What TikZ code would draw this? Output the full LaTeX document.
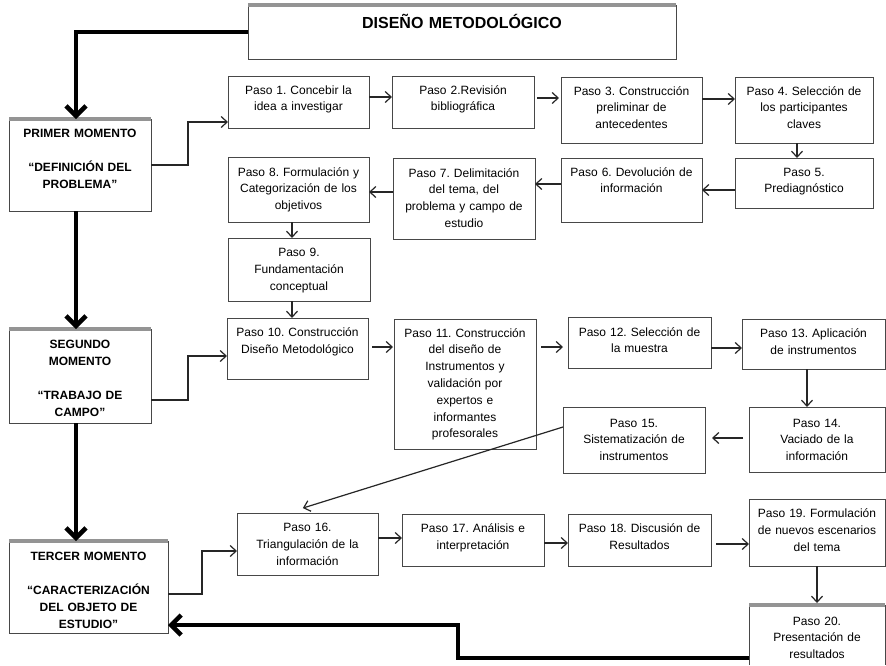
\documentclass[tikz,border=0pt]{standalone}
\usepackage{fontspec}
\setmainfont{Liberation Sans}
\usetikzlibrary{arrows.meta}
\frenchspacing
\tikzset{
  x=1pt, y=-1pt,
  boxframe/.style={draw=black!72, line width=0.9pt, inner sep=0pt, outer sep=0pt, fill=white},
  openframe/.style={draw=none, inner sep=0pt, outer sep=0pt, fill=white},
  boxtext/.style={inner sep=0pt, text width=150pt, align=center, anchor=base, font=\fontsize{12}{16.8}\selectfont},
  momtext/.style={font=\bfseries\fontsize{12}{17}\selectfont},
  titletext/.style={text width=400pt, font=\bfseries\fontsize{16}{19}\selectfont},
  band/.style={draw=black!42, line width=4pt},
  thinarr/.style={draw=black!85, line width=1.2pt, -{Straight Barb[length=6pt,width=11pt]}},
  thickarr/.style={draw=black, line width=4.5pt, -{Straight Barb[length=10pt,width=20pt]}},
}
% #1 frame style, #2 name, #3 x1, #4 y1, #5 x2, #6 y2, #7 text style, #8 baseline offset, #9 text
\newcommand\mkbox[9]{%
  \node[#1, minimum width={(#5-#3)*1pt}, minimum height={(#6-#4)*1pt}] (#2) at ({(#3+#5)/2},{(#4+#6)/2}) {};
  \node[boxtext, #7] (#2t) at ({(#3+#5)/2},{#4+#8}) {#9};
}
\begin{document}
\begin{tikzpicture}
\fill[white] (0,0) rectangle (886,665);
\useasboundingbox (0,0) rectangle (886,665);

% boxes
\mkbox{boxframe}{title}{248}{5}{676}{59}{titletext}{23}{DISEÑO METODOLÓGICO}
\mkbox{boxframe}{m1}{9}{119}{151}{211}{momtext}{18}{PRIMER MOMENTO\\[17pt]“DEFINICIÓN DEL\\PROBLEMA”}
\mkbox{boxframe}{m2}{9}{329}{151}{423}{momtext}{19.5}{SEGUNDO\\MOMENTO\\[17pt]“TRABAJO DE\\CAMPO”}
\mkbox{boxframe}{m3}{9}{541}{168}{633}{momtext}{19}{TERCER MOMENTO\\[17pt]“CARACTERIZACIÓN\\DEL OBJETO DE\\ESTUDIO”}

\mkbox{boxframe}{p1}{228}{76}{369}{128}{}{18}{Paso 1. Concebir la\\idea a investigar}
\mkbox{boxframe}{p2}{392}{76}{534}{128}{}{18}{Paso 2.Revisión\\bibliográfica}
\mkbox{boxframe}{p3}{561}{77}{702}{143}{}{18}{Paso 3. Construcción\\preliminar de\\antecedentes}
\mkbox{boxframe}{p4}{735}{77}{873}{143}{}{18}{Paso 4. Selección de\\los participantes\\claves}
\mkbox{boxframe}{p5}{735}{158}{873}{208}{}{18}{Paso 5.\\Prediagnóstico}
\mkbox{boxframe}{p6}{561}{158}{702}{222}{}{18}{Paso 6. Devolución de\\información}
\mkbox{boxframe}{p7}{393}{158}{535}{239}{}{19}{Paso 7. Delimitación\\del tema, del\\problema y campo de\\estudio}
\mkbox{boxframe}{p8}{228}{157}{369}{222}{}{19}{Paso 8. Formulación y\\Categorización de los\\objetivos}
\mkbox{boxframe}{p9}{228}{238}{370}{301}{}{18.5}{Paso 9.\\Fundamentación\\conceptual}
\mkbox{boxframe}{p10}{227}{318}{368}{379}{}{18.5}{Paso 10. Construcción\\Diseño Metodológico}
\mkbox{boxframe}{p11}{394}{319}{536}{449}{}{18}{Paso 11. Construcción\\del diseño de\\Instrumentos y\\validación por\\expertos e\\informantes\\profesorales}
\mkbox{boxframe}{p12}{568}{317}{711}{368}{}{19}{Paso 12. Selección de\\la muestra}
\mkbox{boxframe}{p13}{742}{319}{885}{369}{}{18.5}{Paso 13. Aplicación\\de instrumentos}
\mkbox{boxframe}{p14}{749}{407}{885}{472}{}{20}{Paso 14.\\Vaciado de la\\información}
\mkbox{boxframe}{p15}{563}{407}{705}{473}{}{20}{Paso 15.\\Sistematización de\\instrumentos}
\mkbox{boxframe}{p16}{237}{513}{378}{575}{}{18.5}{Paso 16.\\Triangulación de la\\información}
\mkbox{boxframe}{p17}{402}{514}{544}{566}{}{18.5}{Paso 17. Análisis e\\interpretación}
\mkbox{boxframe}{p18}{568}{514}{711}{566}{}{18.5}{Paso 18. Discusión de\\Resultados}
\mkbox{boxframe}{p19}{749}{499}{885}{566}{}{18.5}{Paso 19. Formulación\\de nuevos escenarios\\del tema}
\mkbox{openframe}{p20}{749}{605}{885}{665}{}{20}{Paso 20.\\Presentación de\\resultados}
\draw[draw=black!72, line width=0.9pt] (p20.south west) -- (p20.north west) -- (p20.north east) -- (p20.south east);

% grey top bands
\foreach \b in {title,m1,m2,m3,p20} {
  \draw[band] (\b.north west) -- (\b.north east);
}

% thick spine
\coordinate (spine) at (76,0);
\draw[thickarr] (title.west) -| (m1.north -| spine);
\draw[thickarr] (m1.south -| spine) -- (m2.north -| spine);
\draw[thickarr] (m2.south -| spine) -- (m3.north -| spine);
\coordinate (ret) at (458,625);
\draw[thickarr] (p20.west |- 0,658) -| (ret) -- (m3.east |- ret);

% momento to first step
\draw[thinarr] (m1.east) -- ++(37,0) |- (p1.west |- 0,122);
\draw[thinarr] ([yshift=-24pt]m2.east) -- ++(37,0) |- (p10.west |- 0,356);
\draw[thinarr] ([yshift=-7pt]m3.east) -- ++(34,0) |- (p16.west |- 0,551);

% steps
\draw[thinarr] (p1.east |- 0,97) -- (p2.west |- 0,97);
\draw[thinarr, shorten <=3pt, shorten >=2pt] (p2.east |- 0,98) -- (p3.west |- 0,98);
\draw[thinarr] (p3.east |- 0,99) -- (p4.west |- 0,99);
\draw[thinarr] (p4.south -| 797,0) -- (p5.north -| 797,0);
\draw[thinarr] (p5.west |- 0,190) -- (p6.east |- 0,190);
\draw[thinarr] (p6.west |- 0,184) -- (p7.east |- 0,184);
\draw[thinarr] (p7.west |- 0,192) -- (p8.east |- 0,192);
\draw[thinarr] (p8.south -| 292,0) -- (p9.north -| 292,0);
\draw[thinarr] (p9.south -| 292,0) -- (p10.north -| 292,0);
\draw[thinarr, shorten <=4pt, shorten >=1pt] (p10.east |- 0,347) -- (p11.west |- 0,347);
\draw[thinarr, shorten <=5pt, shorten >=5pt] (p11.east |- 0,347) -- (p12.west |- 0,347);
\draw[thinarr] (p12.east |- 0,348) -- (p13.west |- 0,348);
\draw[thinarr] (p13.south -| 807,0) -- (p14.north -| 807,0);
\draw[thinarr, shorten <=6pt, shorten >=7pt] (p14.west |- 0,438) -- (p15.east |- 0,438);
\draw[thinarr, shorten >=16.6pt] (p15.west |- 0,427) -- ([xshift=-20.5pt]p16.north);
\draw[thinarr] (p16.east |- 0,538) -- (p17.west |- 0,538);
\draw[thinarr] (p17.east |- 0,543) -- (p18.west |- 0,543);
\draw[thinarr, shorten <=5pt] (p18.east |- 0,544) -- (p19.west |- 0,544);
\draw[thinarr, shorten >=2pt] (p19.south) -- (p20.north);
\end{tikzpicture}
\end{document}
